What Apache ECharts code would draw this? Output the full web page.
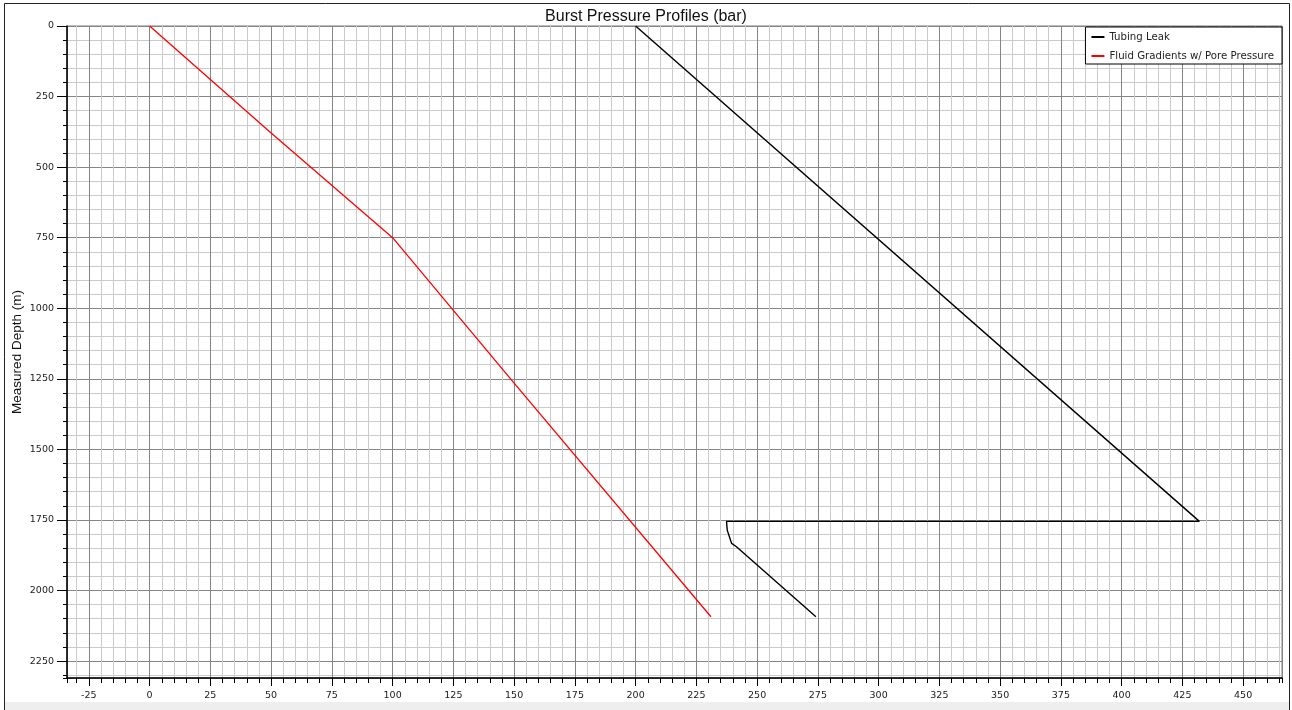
<!DOCTYPE html>
<html>
<head>
<meta charset="utf-8">
<script src="https://cdn.jsdelivr.net/npm/echarts@6/dist/echarts.min.js"></script>
<style>
html,body{margin:0;padding:0;background:#fff;}
#chart{width:1292px;height:710px;}
</style>
</head>
<body>
<div id="chart"></div>
<script>
// ---- data ----
var chartTitle = 'Burst Pressure Profiles (bar)';
var yAxisTitle = 'Measured Depth (m)';
var seriesNames = ['Tubing Leak', 'Fluid Gradients w/ Pore Pressure'];

// Tubing Leak (black): pressure (bar) vs measured depth (m)
var tubingPressure = [200, 432, 237.4, 237.7, 238.8, 239.5, 241.5, 274.2];
var tubingDepth    = [0, 1755, 1755, 1786, 1815, 1833, 1845, 2093];

// Fluid Gradients w/ Pore Pressure (red)
var fluidPressure = [0, 50, 100, 150, 231];
var fluidDepth    = [0, 379, 750, 1265, 2093];

// axis ranges / tick steps
var xMin = -34, xMax = 466, xMajor = 25, xMinor = 5;
var yMin = 0, yMax = 2310, yMajor = 250, yMinor = 50;

function pairs(xs, ys){ var out=[]; for (var i=0;i<xs.length;i++) out.push([xs[i], ys[i]]); return out; }
function plain(v){ return String(v); }

var chart = echarts.init(document.getElementById('chart'), null, {renderer:'canvas'});

var labelFont = {fontFamily:'DejaVu Sans', fontSize:9.5, color:'#1a1a1a', formatter:plain};
var majorGrid = '#858585', minorGrid = '#cbcbcb';

var option = {
  backgroundColor:'#ffffff',
  animation:false,
  title:{
    text: chartTitle, left:'center', top:9, padding:0,
    textStyle:{fontFamily:'Liberation Sans', fontSize:16, fontWeight:'normal', color:'#111'}
  },
  legend:{
    data: seriesNames, orient:'vertical', right:10, top:27,
    padding:[5,8,3,6], itemGap:9, itemWidth:13, itemHeight:2, icon:'rect',
    backgroundColor:'#fff', borderColor:'#000', borderWidth:1,
    textStyle:{fontFamily:'DejaVu Sans', fontSize:10.2, color:'#222'}
  },
  grid:{left:67, top:26, width:1215, height:652, show:true, borderColor:'#7a7a7a', borderWidth:1, backgroundColor:'transparent', outerBoundsMode:'none'},
  xAxis:[
    { type:'value', position:'bottom', min:xMin, max:xMax, minInterval:xMinor, maxInterval:xMinor,
      axisLine:{show:false, onZero:false}, axisLabel:{show:false},
      axisTick:{show:true, length:5, lineStyle:{color:'#000', width:1}},
      splitLine:{show:true, lineStyle:{color:minorGrid, width:1}} },
    { type:'value', position:'bottom', min:xMin, max:xMax, minInterval:xMajor, maxInterval:xMajor,
      axisLine:{show:true, onZero:false, lineStyle:{color:'#000', width:1.5}},
      axisTick:{show:true, length:8, lineStyle:{color:'#000', width:1}},
      axisLabel:Object.assign({show:true, margin:13, showMinLabel:false, showMaxLabel:false}, labelFont),
      splitLine:{show:true, lineStyle:{color:majorGrid, width:1}} }
  ],
  yAxis:[
    { type:'value', position:'left', inverse:true, min:yMin, max:yMax, interval:yMinor,
      axisLine:{show:false, onZero:false}, axisLabel:{show:false},
      axisTick:{show:true, length:4, lineStyle:{color:'#000', width:1}},
      splitLine:{show:true, lineStyle:{color:minorGrid, width:1}} },
    { type:'value', position:'left', inverse:true, min:yMin, max:yMax, interval:yMajor,
      name: yAxisTitle, nameLocation:'middle', nameRotate:90, nameGap:43, nameMoveOverlap:false,
      nameTextStyle:{fontFamily:'Liberation Sans', fontSize:13.5, color:'#111'},
      axisLine:{show:true, onZero:false, lineStyle:{color:'#000', width:1.5}},
      axisTick:{show:true, length:10, lineStyle:{color:'#000', width:1}},
      axisLabel:Object.assign({show:true, margin:13, showMinLabel:true, showMaxLabel:false}, labelFont),
      splitLine:{show:true, lineStyle:{color:majorGrid, width:1}} }
  ],
  series:[
    { name: seriesNames[0], type:'line', xAxisIndex:1, yAxisIndex:1, showSymbol:false, symbol:'none',
      data: pairs(tubingPressure, tubingDepth), color:'#000',
      lineStyle:{color:'#000', width:1.4}, z:5 },
    { name: seriesNames[1], type:'line', xAxisIndex:1, yAxisIndex:1, showSymbol:false, symbol:'none',
      data: pairs(fluidPressure, fluidDepth), color:'#ff0000',
      lineStyle:{color:'#ff0000', width:1.3}, z:5 }
  ],
  graphic:[
    { type:'rect', silent:true, z:-1, shape:{x:5, y:702, width:1284, height:8}, style:{fill:'#eeeeee', stroke:null} },
    { type:'line', silent:true, shape:{x1:4.5, y1:3.5, x2:1289.5, y2:3.5}, style:{stroke:'#222', lineWidth:1} },
    { type:'line', silent:true, shape:{x1:4.5, y1:3.5, x2:4.5, y2:710}, style:{stroke:'#222', lineWidth:1} },
    { type:'line', silent:true, shape:{x1:1289.5, y1:3.5, x2:1289.5, y2:710}, style:{stroke:'#222', lineWidth:1} }
  ]
};
chart.setOption(option);
</script>
</body>
</html>
